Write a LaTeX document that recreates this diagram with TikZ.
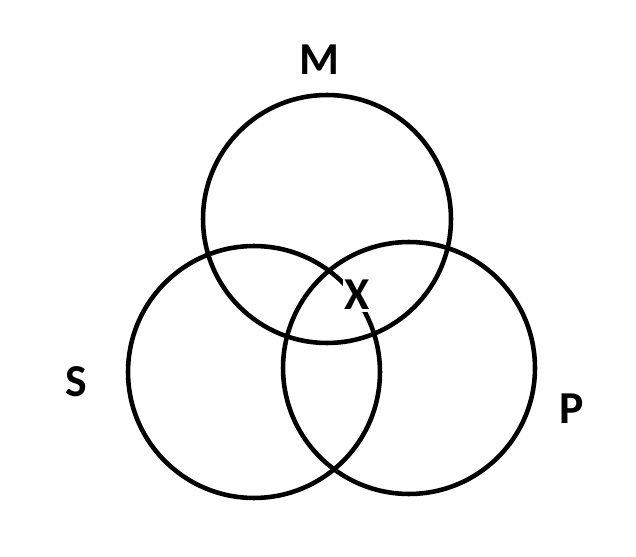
\documentclass[tikz,border=0pt]{standalone}
\usepackage{fontspec}
\setmainfont{Carlito}
\usepackage{tikz}
\tikzstyle{setring} = [draw=black, line width=2.6pt, circle, inner sep=0pt]
\tikzstyle{setname} = [font=\fontsize{26}{30}\selectfont\bfseries, inner sep=1pt]
\begin{document}
\begin{tikzpicture}[x=0.02cm, y=-0.02cm]
\useasboundingbox (0,0) rectangle (636,557);
% the three sets
\node[setring, minimum size=4.96cm] (ringM) at (327,219) {};
\node[setring, minimum size=5.04cm] (ringS) at (254,372) {};
\node[setring, minimum size=5.04cm] (ringP) at (409,368) {};
% their names
\node[setname] (labelM) at (319,60) {M};
\node[setname] (labelS) at (76,382) {S};
\node[setname] (labelP) at (572,409) {P};
\node[setname, fill=white] (labelX) at (357,295) {X};
\end{tikzpicture}
\end{document}
